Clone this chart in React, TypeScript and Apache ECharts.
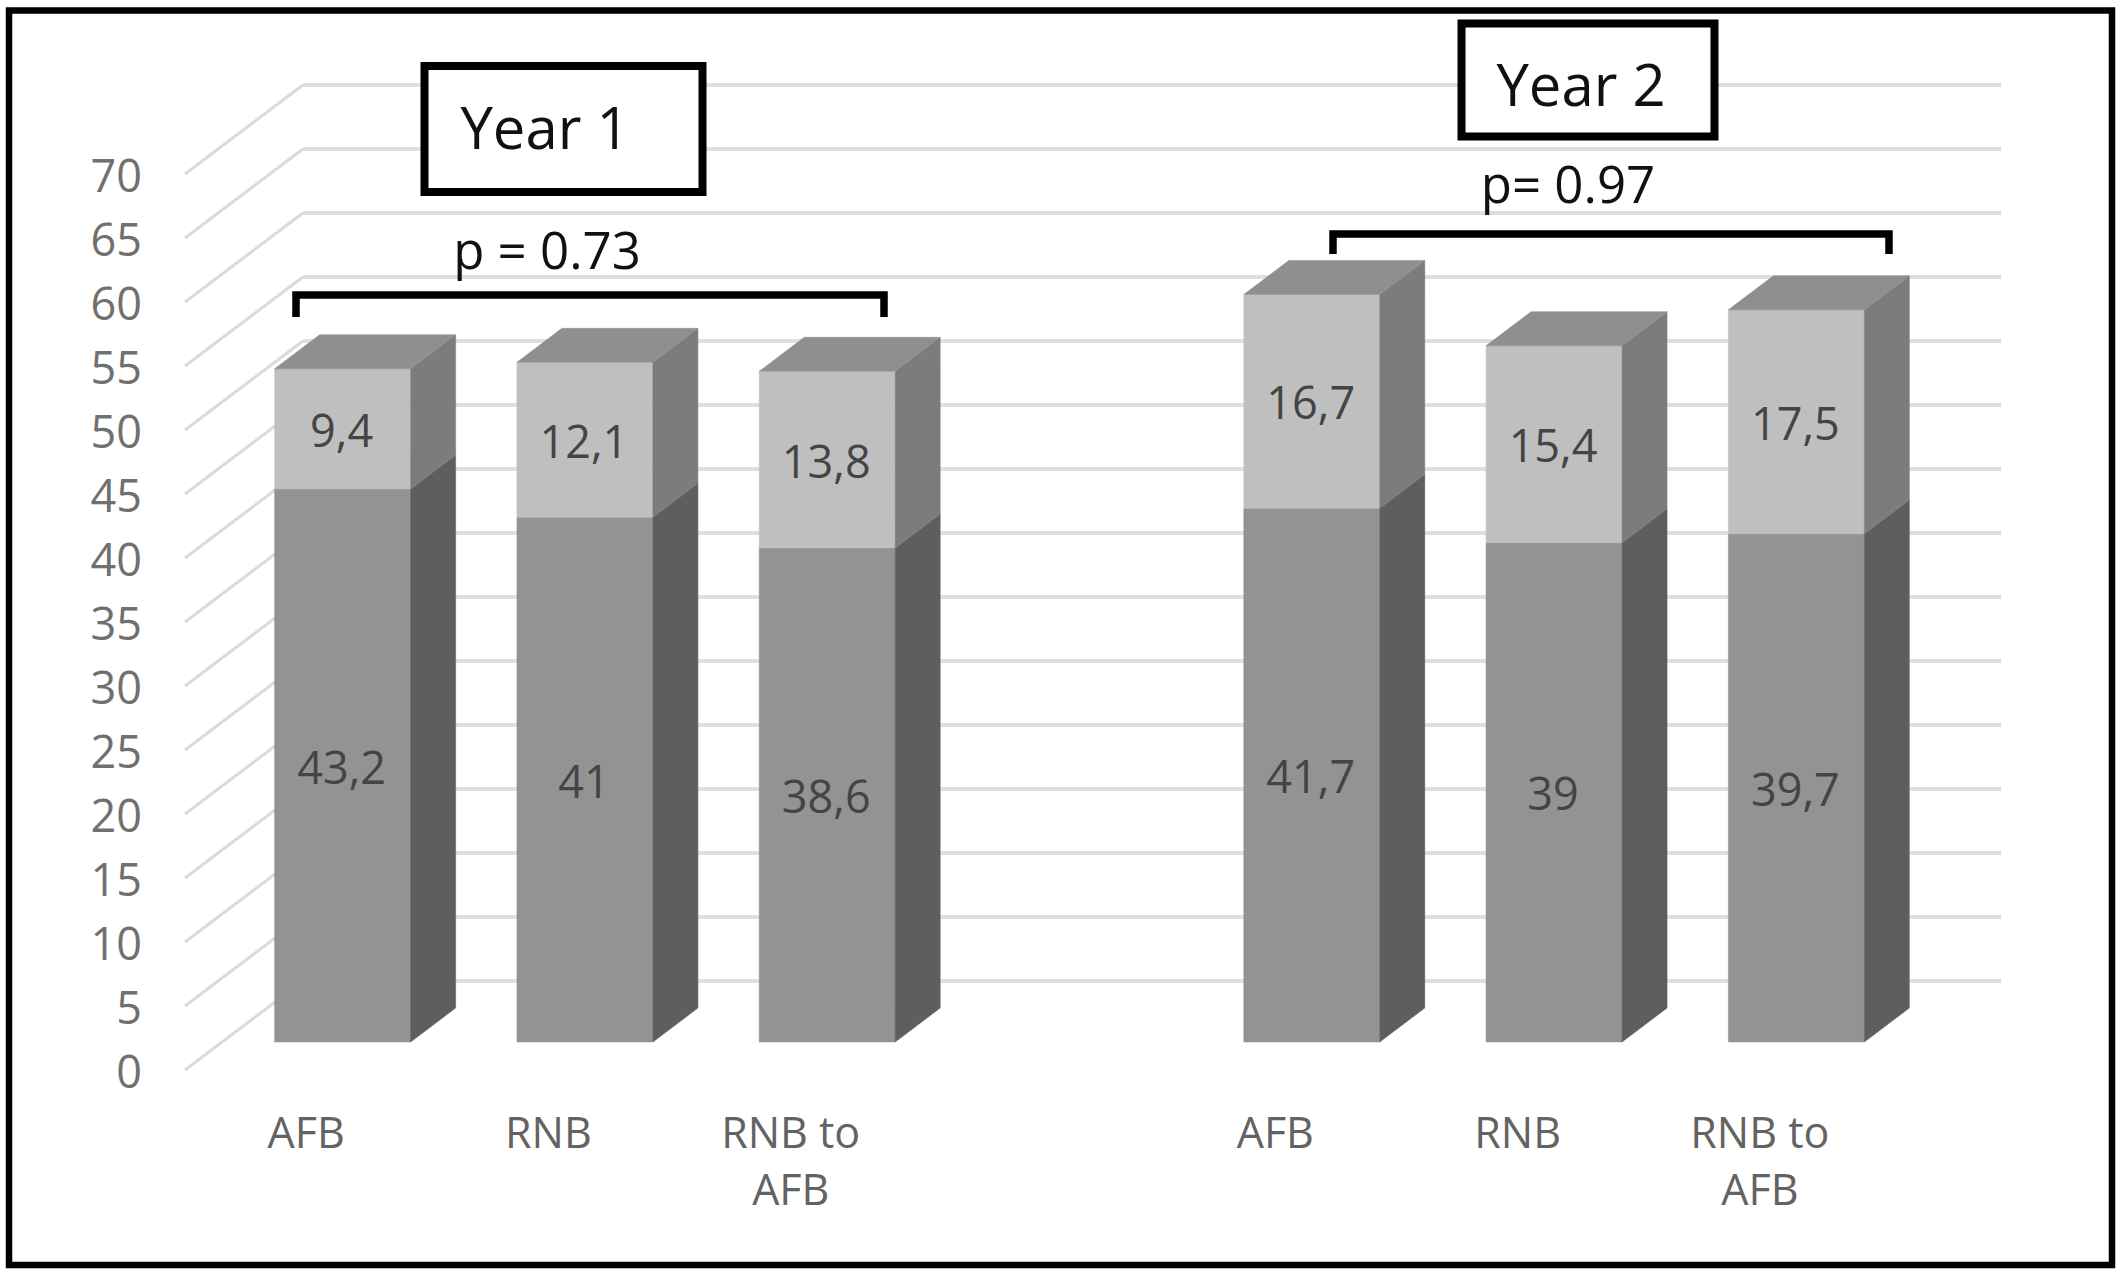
import React, { useEffect, useRef } from "react";
import * as echarts from "echarts";

const categories = ["AFB", "RNB", "RNB to\nAFB", "", "AFB", "RNB", "RNB to\nAFB"];
const barCategoryIndex = [0, 1, 2, 4, 5, 6];
const lowerValues = [43.2, 41, 38.6, 41.7, 39, 39.7];
const upperValues = [9.4, 12.1, 13.8, 16.7, 15.4, 17.5];
const valueTicks = [0, 5, 10, 15, 20, 25, 30, 35, 40, 45, 50, 55, 60, 65, 70];

const FONT = '"Open Sans", sans-serif';
const BAR_SHIFT_X = 36.5;
const BAR_SHIFT_Y = -28;
const DEPTH_X = 45;
const DEPTH_Y = -34;
const BAR_W = 136;

const poly = (points: number[][], fill: string) => ({
  type: "polygon",
  shape: { points },
  style: { fill, stroke: fill, lineWidth: 0.5 },
});

const renderBar = (params: any, api: any) => {
  const cat = api.value(0);
  const lo = api.value(1);
  const up = api.value(2);
  const [cx, y0] = api.coord([cat, 0]);
  const y1 = api.coord([cat, lo])[1];
  const y2 = api.coord([cat, lo + up])[1];
  const xc = cx + BAR_SHIFT_X;
  const l = xc - BAR_W / 2;
  const r = xc + BAR_W / 2;
  const b = y0 + BAR_SHIFT_Y;
  const m = y1 + BAR_SHIFT_Y;
  const t = y2 + BAR_SHIFT_Y;
  const dx = DEPTH_X;
  const dy = DEPTH_Y;
  const label = (v: number, y: number) => ({
    type: "text",
    style: {
      text: String(v).replace(".", ","),
      x: xc - 1,
      y: y + 0.5,
      align: "center",
      verticalAlign: "middle",
      fill: "#444444",
      font: `45px ${FONT}`,
    },
  });
  return {
    type: "group",
    children: [
      poly([[l, b], [r, b], [r, m], [l, m]], "#939393"),
      poly([[l, m], [r, m], [r, t], [l, t]], "#bfbfbf"),
      poly([[r, b], [r + dx, b + dy], [r + dx, m + dy], [r, m]], "#5e5e5e"),
      poly([[r, m], [r + dx, m + dy], [r + dx, t + dy], [r, t]], "#7c7c7c"),
      poly([[l, t], [r, t], [r + dx, t + dy], [l + dx, t + dy]], "#8f8f8f"),
      label(lo, (b + m) / 2),
      label(up, (m + t) / 2),
    ],
  };
};

const renderDiagonal = (params: any, api: any) => {
  const y = api.coord([0, api.value(1)])[1];
  const x = params.coordSys.x;
  return {
    type: "line",
    shape: { x1: x, y1: y, x2: x + 118, y2: y - 89 },
    style: { stroke: "#dadada", lineWidth: 3 },
  };
};

const boxText = (text: string, x: number, y: number, size: number) => ({
  type: "text",
  z: 20,
  style: {
    text,
    x,
    y,
    align: "center",
    verticalAlign: "middle",
    fill: "#111111",
    font: `${size}px ${FONT}`,
  },
});

const box = (x: number, y: number, width: number, height: number) => ({
  type: "rect",
  z: 19,
  shape: { x, y, width, height },
  style: { fill: "#ffffff", stroke: "#000000", lineWidth: 8 },
});

const bracket = (x1: number, x2: number, top: number, bottom: number) => ({
  type: "polyline",
  z: 20,
  shape: { points: [[x1, bottom], [x1, top], [x2, top], [x2, bottom]] },
  style: { fill: "none", stroke: "#000000", lineWidth: 7.5 },
});

export default function App() {
  const ref = useRef<HTMLDivElement>(null);
  useEffect(() => {
    const chart = echarts.init(ref.current!, null, { renderer: "svg" });
    chart.setOption({
      animation: false,
      backgroundColor: "#ffffff",
      grid: [
        { left: 185, top: 174, width: 1696, height: 896 },
        { left: 303, top: 85, width: 1698, height: 896 },
      ],
      xAxis: [
        {
          type: "category",
          gridIndex: 0,
          data: categories,
          axisLine: { show: false },
          axisTick: { show: false },
          axisLabel: {
            interval: 0,
            margin: 33,
            color: "#636363",
            fontFamily: "Open Sans",
            fontSize: 43,
            lineHeight: 57,
          },
        },
        { type: "value", gridIndex: 1, min: 0, max: 1, show: false },
      ],
      yAxis: [
        {
          type: "value",
          gridIndex: 0,
          min: 0,
          max: 70,
          interval: 5,
          axisLine: { show: false },
          axisTick: { show: false },
          splitLine: { show: false },
          axisLabel: {
            margin: 43,
            color: "#707070",
            fontFamily: "Open Sans",
            fontSize: 45,
            padding: [0, 0, 5, 0],
          },
        },
        {
          type: "value",
          gridIndex: 1,
          min: 0,
          max: 70,
          interval: 5,
          axisLine: { show: false },
          axisTick: { show: false },
          axisLabel: { show: false },
          splitLine: { show: true, lineStyle: { color: "#dfdfdf", width: 4 } },
        },
      ],
      series: [
        {
          type: "custom",
          xAxisIndex: 0,
          yAxisIndex: 0,
          z: 2,
          clip: false,
          silent: true,
          renderItem: renderDiagonal,
          data: valueTicks.map((v) => [0, v]),
        },
        {
          type: "custom",
          xAxisIndex: 0,
          yAxisIndex: 0,
          z: 5,
          clip: false,
          silent: true,
          renderItem: renderBar,
          data: barCategoryIndex.map((c, i) => [c, lowerValues[i], upperValues[i]]),
        },
      ],
      graphic: [
        {
          type: "rect",
          z: 30,
          shape: { x: 9, y: 10.5, width: 2103, height: 1254.5 },
          style: { fill: "none", stroke: "#000000", lineWidth: 6.5 },
        },
        box(424.5, 66, 278, 126),
        boxText("Year 1", 545, 126, 58),
        box(1461.5, 23.5, 253, 113),
        boxText("Year 2", 1581, 83, 58),
        boxText("p = 0.73", 547, 249, 51),
        boxText("p= 0.97", 1568, 183, 51),
        bracket(296, 884, 295, 317),
        bracket(1333, 1889, 234, 254),
      ],
    });
    return () => chart.dispose();
  }, []);
  return (
    <div
      ref={ref}
      style={{ position: "absolute", left: 0, top: 0, width: 2121, height: 1277 }}
    />
  );
}
